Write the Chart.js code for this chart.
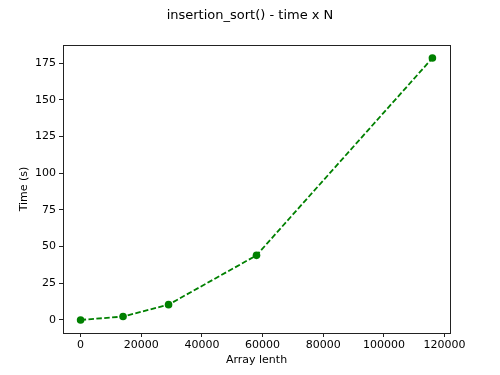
<!DOCTYPE html>
<html>
<head>
<meta charset="utf-8">
<script src="https://cdn.jsdelivr.net/npm/chart.js@4/dist/chart.umd.min.js"></script>
<style>
  html, body { margin: 0; padding: 0; background: #fff; }
  #wrap { width: 500px; height: 375px; }
</style>
</head>
<body>
<div id="wrap"><canvas id="sortChart"></canvas></div>
<script>
const arrayLengths = [0, 14000, 29000, 58000, 116000]
const times = [0, 2.3, 10.4, 44, 178.4]
const xTicks = [0, 20000, 40000, 60000, 80000, 100000, 120000]
const yTicks = [0, 25, 50, 75, 100, 125, 150, 175]

const points = arrayLengths.map((n, i) => ({x: n, y: times[i]}))

// box around the plot area, like matplotlib spines
const frameBox = {
    id: 'frameBox',
    afterDatasetsDraw(chart) {
        const {ctx, chartArea} = chart
        ctx.save()
        ctx.strokeStyle = '#222'
        ctx.lineWidth = 1
        ctx.strokeRect(chartArea.left + 0.5, chartArea.top + 0.5,
            chartArea.right - chartArea.left, chartArea.bottom - chartArea.top)
        ctx.restore()
    }
}

function drawSortChart() {
    const canvas = document.getElementById('sortChart')
    new Chart(canvas, {
        type: 'line',
        data: {
            datasets: [{
                data: points,
                borderColor: '#008000',
                backgroundColor: '#008000',
                borderWidth: 1.8,
                borderDash: [5.5, 2.4],
                pointRadius: 3.8,
                pointHoverRadius: 3.8,
                pointBorderWidth: 0,
                tension: 0,
                clip: false
            }]
        },
        options: {
            responsive: true,
            maintainAspectRatio: false,
            animation: false,
            events: [],
            layout: { padding: 0 },
            plugins: {
                legend: { display: false },
                tooltip: { enabled: false },
                title: {
                    display: true,
                    text: 'insertion_sort() - time x N',
                    color: '#000',
                    font: { family: 'DejaVu Sans', size: 13, weight: 'normal', lineHeight: 1.2 },
                    padding: { top: 8, bottom: 21.4 }
                }
            },
            scales: {
                x: {
                    type: 'linear',
                    min: -5800,
                    max: 121800,
                    afterBuildTicks: (scale) => { scale.ticks = xTicks.map(v => ({value: v})) },
                    afterFit: (scale) => { scale.height = 42 },
                    border: { display: false },
                    grid: { drawOnChartArea: false, tickLength: 4, color: '#222', tickWidth: 1 },
                    ticks: {
                        color: '#000',
                        padding: 2,
                        maxRotation: 0,
                        autoSkip: false,
                        font: { family: 'DejaVu Sans', size: 11 },
                        callback: (v) => String(v)
                    },
                    title: {
                        display: true,
                        text: 'Array lenth',
                        color: '#000',
                        font: { family: 'DejaVu Sans', size: 11, lineHeight: 1.2 },
                        padding: { top: 0, bottom: 8 }
                    }
                },
                y: {
                    type: 'linear',
                    min: -8.9,
                    max: 187.3,
                    afterBuildTicks: (scale) => { scale.ticks = yTicks.map(v => ({value: v})) },
                    afterFit: (scale) => { scale.width = 63 },
                    border: { display: false },
                    grid: { drawOnChartArea: false, tickLength: 4, color: '#222', tickWidth: 1 },
                    ticks: {
                        color: '#000',
                        padding: 3,
                        autoSkip: false,
                        font: { family: 'DejaVu Sans', size: 11 },
                        callback: (v) => String(v)
                    },
                    title: {
                        display: true,
                        text: 'Time (s)',
                        color: '#000',
                        font: { family: 'DejaVu Sans', size: 11, lineHeight: 1.2 },
                        padding: { top: 18, bottom: 0 }
                    }
                },
                // empty right-hand axis that only reserves the right margin
                spacer: {
                    type: 'linear',
                    position: 'right',
                    display: true,
                    afterFit: (scale) => { scale.width = 50 },
                    border: { display: false },
                    grid: { display: false },
                    ticks: { display: false }
                }
            }
        },
        plugins: [frameBox]
    })
}

drawSortChart()
</script>
</body>
</html>
